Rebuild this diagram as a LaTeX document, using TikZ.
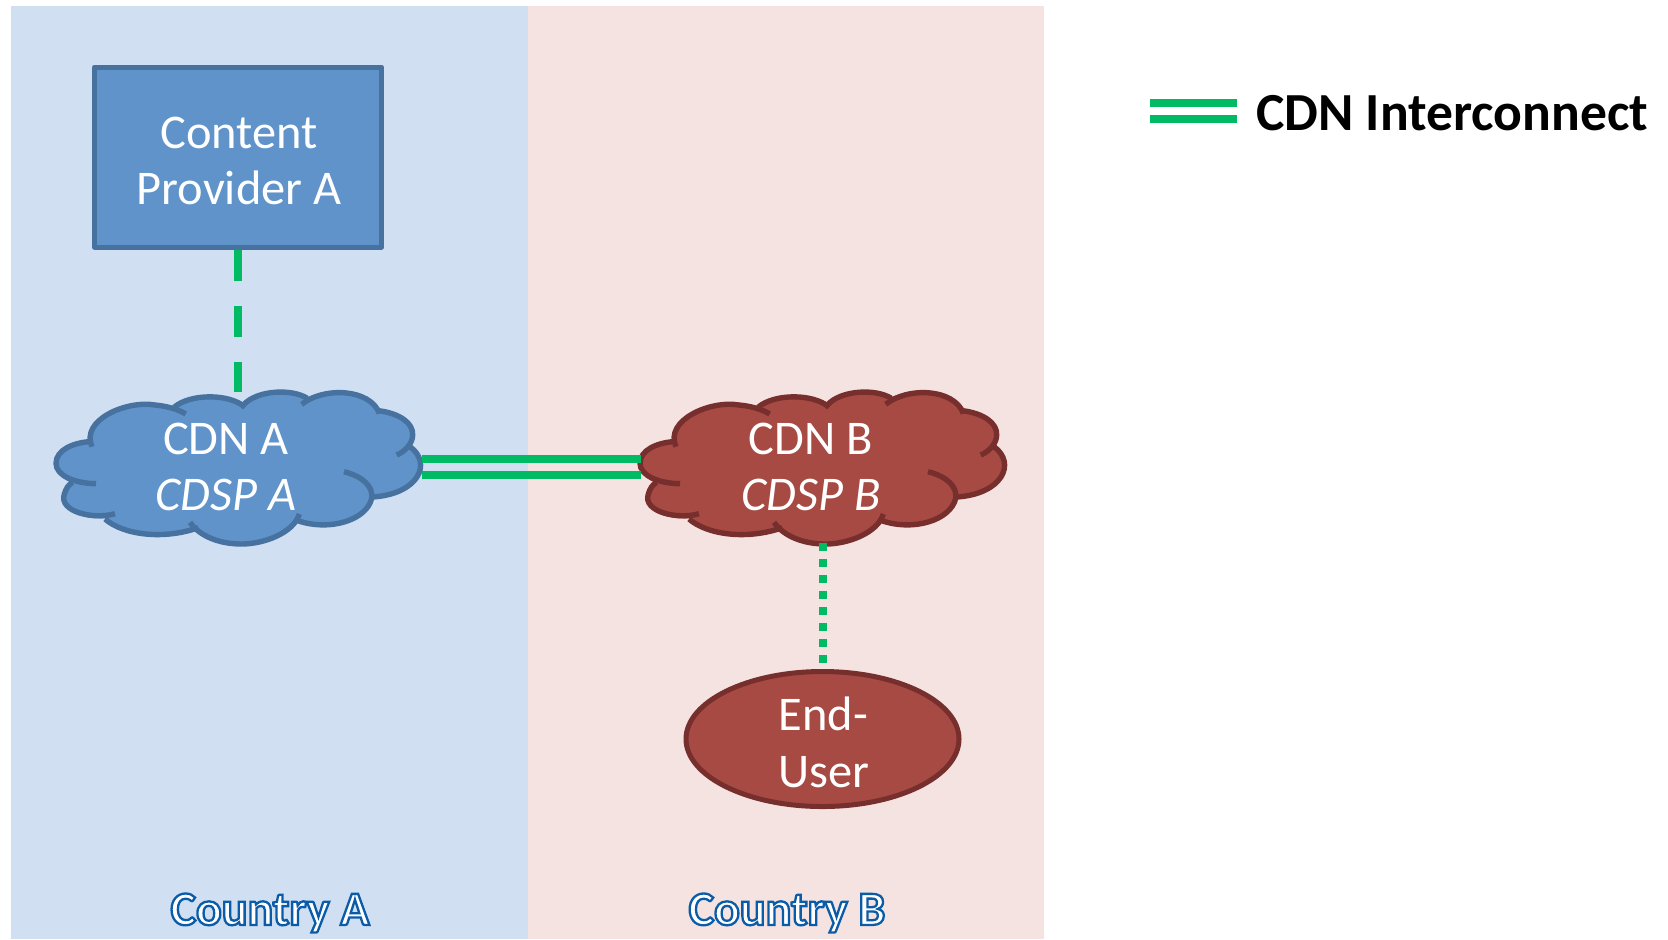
\documentclass[tikz,border=0pt]{standalone}
\usepackage{fontspec}
\setmainfont{Carlito}
\usetikzlibrary{calc,shapes.geometric}
\definecolor{panelA}{HTML}{D0E0F2}
\definecolor{panelB}{HTML}{F5E3E1}
\definecolor{blueFill}{HTML}{5F93C9}
\definecolor{blueEdge}{HTML}{47719F}
\definecolor{redFill}{HTML}{A64A43}
\definecolor{redEdge}{HTML}{772F2D}
\definecolor{linkGreen}{HTML}{00BB63}
\tikzset{
  x=0.5pt,y=-0.5pt,
  label/.style={text=white,font=\fontsize{24.2}{29.2}\selectfont,align=center,inner sep=0pt},
  link/.style={draw=linkGreen,line width=4pt},
  dashlink/.style={link,dash pattern=on 15.5pt off 12.5pt},
  dotlink/.style={link,dash pattern=on 4pt off 4pt},
  cloudbox/.style={draw=none,fill=none,inner sep=0pt,minimum width=182pt,minimum height=75.5pt},
}
\newcommand{\countrytext}[1]{\special{pdf:code q 2 Tr 1.15 w 0.043 0.36 0.66 RG 1 1 1 rg}#1\special{pdf:code Q}}
% cloud outline, in crop units: x_real = cx + u/3
\newcommand{\cloudshape}[3]{%
  \begin{scope}[shift={(#1,370)},x=0.1666667pt,y=-0.1666667pt]
    \fill[#2] (78,280) .. controls (78,235) and (130,215) .. (178,215)
      .. controls (170,140) and (270,95) .. (345,103)
      .. controls (380,105) and (410,110) .. (435,110)
      .. controls (480,75) and (590,65) .. (645,100)
      .. controls (690,60) and (780,55) .. (825,85)
      .. controls (880,55) and (1020,55) .. (1045,125)
      .. controls (1110,130) and (1150,160) .. (1148,195)
      .. controls (1148,210) and (1145,222) .. (1140,230)
      .. controls (1208,280) and (1165,372) .. (1030,380)
      .. controls (1020,440) and (900,490) .. (805,455)
      .. controls (760,530) and (560,550) .. (490,475)
      .. controls (400,510) and (280,495) .. (225,445)
      .. controls (160,450) and (85,420) .. (105,370)
      .. controls (108,355) and (115,345) .. (125,338)
      .. controls (100,330) and (78,305) .. (78,280) -- cycle;
    \begin{scope}[draw=#3,line width=2.7pt,line cap=butt]
      \draw (198,341) .. controls (130,340) and (78,315) .. (78,280) .. controls (78,240) and (130,218) .. (178,215);
      \draw (186,230) .. controls (150,150) and (290,90) .. (375,105) .. controls (410,108) and (445,118) .. (467,132);
      \draw (432,112) .. controls (480,70) and (600,70) .. (645,112);
      \draw (640,105) .. controls (680,60) and (785,55) .. (832,85);
      \draw (815,103) .. controls (880,50) and (1020,55) .. (1048,130);
      \draw (1045,122) .. controls (1110,130) and (1150,160) .. (1148,195) .. controls (1148,220) and (1125,245) .. (1100,255);
      \draw (1140,230) .. controls (1208,280) and (1165,372) .. (1028,381);
      \draw (942,305) .. controls (1000,320) and (1030,350) .. (1025,385) .. controls (1010,450) and (900,485) .. (803,452);
      \draw (808,432) .. controls (790,490) and (700,522) .. (635,522) .. controls (570,522) and (510,500) .. (480,457);
      \draw (505,473) .. controls (400,510) and (280,495) .. (225,447);
      \draw (255,431) .. controls (190,450) and (85,425) .. (103,372) .. controls (108,355) and (115,345) .. (127,337);
    \end{scope}
  \end{scope}}
\begin{document}
\begin{tikzpicture}
  \useasboundingbox (0,0) rectangle (1668,939);
  \fill[white] (0,0) rectangle (1668,939);
  \fill[panelA] (11,6) rectangle (528,939);
  \fill[panelB] (528,6) rectangle (1044,939);

  \node[rectangle,draw=blueEdge,fill=blueFill,line width=2.5pt,line join=round,minimum width=143.5pt,minimum height=90pt,inner sep=0pt] (cp) at (238,157) {};
  \node[label,anchor=center] (cptext) at ($(cp.center)+(1,4)$) {Content\\[-1pt]Provider A};

  \cloudshape{30}{blueFill}{blueEdge}
  \cloudshape{614}{redFill}{redEdge}

  \node[cloudbox] (cdna) at (239.5,467.5) {};
  \node[cloudbox] (cdnb) at (823.5,467.5) {};
  \node[label] (cdnatext) at (226,467) {CDN A\\[-1pt]\textit{CDSP A}};
  \node[label] (cdnbtext) at (811,467) {CDN B\\[-1pt]\textit{CDSP B}};

  \node[ellipse,draw=redEdge,fill=redFill,line width=2.5pt,minimum width=136.5pt,minimum height=67.5pt,inner sep=0pt] (eu) at (822.5,739) {};
  \node[label] (eutext) at ($(eu.center)+(1,3.5)$) {End-\\[-1pt]User};

  \coordinate (la1) at ($(cdna.east)+(0,-8.5)$);
  \coordinate (lb1) at ($(cdnb.west)+(0,-8.5)$);
  \coordinate (la2) at ($(cdna.east)+(0,7.5)$);
  \coordinate (lb2) at ($(cdnb.west)+(0,7.5)$);
  \draw[link] (la1) -- (lb1);
  \draw[link] (la2) -- (lb2);
  \draw[dashlink] (cp.south) -- (cp.south |- cdna.north);
  \draw[dotlink] (eu.north |- cdnb.south) -- (eu.north);

  \coordinate (lg1a) at (1150,103);
  \coordinate (lg1b) at (1237,103);
  \coordinate (lg2a) at (1150,119);
  \coordinate (lg2b) at (1237,119);
  \draw[link] (lg1a) -- (lg1b);
  \draw[link] (lg2a) -- (lg2b);
  \node[anchor=west,inner sep=0pt,font=\bfseries\fontsize{26.8}{32}\selectfont] (legend) at (1256,113) {CDN Interconnect};

  \node[inner sep=0pt,font=\bfseries\fontsize{24}{29}\selectfont] (ca) at (270,913) {\countrytext{Country A}};
  \node[inner sep=0pt,font=\bfseries\fontsize{24}{29}\selectfont] (cb) at (787,913) {\countrytext{Country B}};
\end{tikzpicture}
\end{document}
